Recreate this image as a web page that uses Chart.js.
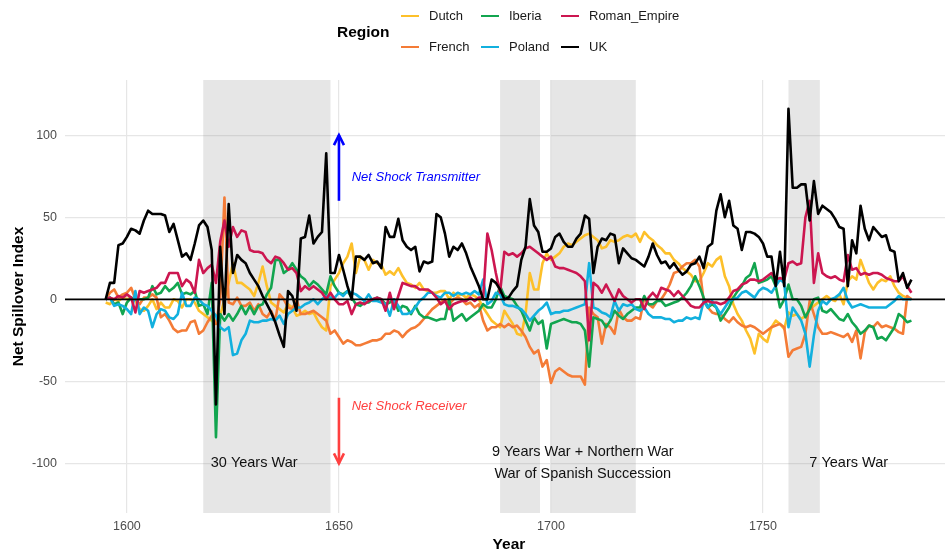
<!DOCTYPE html>
<html>
<head>
<meta charset="utf-8">
<script src="https://cdn.jsdelivr.net/npm/chart.js@4.4.1/dist/chart.umd.min.js"></script>
<style>
  html, body { margin: 0; padding: 0; background: #fff; width: 945px; height: 557px; overflow: hidden; }
  #wrap { position: relative; width: 945px; height: 557px; overflow: hidden; font-family: "Liberation Sans", Arial, sans-serif; }
  #chart { position: absolute; left: 0; top: 0; }
  .legtitle { position: absolute; left: 337px; top: 22px; font-weight: bold; font-size: 15.5px; line-height: 20px; color: #000; }
  .key { position: absolute; width: 18px; height: 2.6px; }
  .lab { position: absolute; font-size: 13px; line-height: 16px; color: #1a1a1a; white-space: nowrap; }
</style>
</head>
<body>
<div id="wrap">
  <canvas id="chart" width="953" height="557"></canvas>
  <div class="legtitle">Region</div>
  <div id="legend"></div>
</div>
<script>
// years 1595..1785, one value per year
const firstYear = 1595;
const lastYear = 1785;
const years = [];
for (let y = firstYear; y <= lastYear; y++) years.push(y);

const regions = ['Dutch', 'French', 'Iberia', 'Poland', 'Roman_Empire', 'UK'];
const regionColors = ['#FDC02A', '#F47B36', '#12A54F', '#12B0DE', '#CC1650', '#000000'];

const xTicks = [1600, 1650, 1700, 1750];
const yTicks = [-100, -50, 0, 50, 100];

const dutch = [
  -2, -3, 0, -1, 1, 0, 1, -1, -6, -7,
  -4, 0, -6, -2, -5, -5, 0, -1, -5, 0,
  0, -2, -7, -9, -11, -13, -15, -10, 0, 10,
  22, 10, 10, 8, 6, 2, 10, 20, 8, -2,
  -4, -6, -8, -3, -5, -10, -9, -7, -9, -8,
  -13, -17, -19, 8, 12, 16, 22, 26, 34, 16,
  26, 24, 18, 24, 22, 21, 15, 17, 15, 19,
  14, 10, 9, 7, 10, 6, 5, 4, 4, 5,
  5, 0, 4, 2, 3, 1, 3, 2, 0, -5,
  -9, -13, -15, -17, -7, -11, -15, -21, -22, -9,
  16, 6, 6, 22, 28, 24, 26, 28, 32, 34,
  33, 35, 37, 39, 40, 38, 36, 31, 32, 36,
  35, 36, 38, 39, 38, 40, 35, 41, 38, 36,
  33, 31, 28, 28, 24, 22, 19, 17, 15, 11,
  11, 16, 22, 20, 24, 26, 14, 8, -3, -9,
  -13, -19, -24, -33, -21, -24, -26, -17, -13, -15,
  -18, -8, -10, -9, -12, -10, -6, -4, -2, 0,
  2, 0, -1, 3, -3, 11, 14, 12, 24, 17,
  10, 6, 10, 12, 11, 14, 8, 4, 2, 1, 0
];

const french = [
  0, 4, 6, 1, 3, 4, 7, 0, -3, 1,
  1, 3, 1, -11, -9, -13, -18, -20, -19, -19,
  -14, -13, -21, -19, -14, -10, -15, 0, 62, -2,
  -3, 1, -4, -4, -2, -7, -3, -9, -11, -7,
  -13, 3, 0, -5, -6, 0, -9, -9, -8, -7,
  -9, -11, -13, -21, -19, -23, -27, -25, -26, -28,
  -28, -27, -26, -25, -25, -24, -21, -21, -19, -20,
  -23, -20, -18, -17, -15, -12, -9, -6, -4, -2,
  0, -3, 0, 1, 0, -3, -2, -5, -3, -13,
  -19, -17, -17, -15, -17, -15, -17, -16, -19, -23,
  -29, -33, -31, -41, -37, -51, -44, -42, -44, -46,
  -47, -47, -47, -52, -5, -9, -11, -27, -15, -17,
  -21, -6, -11, -13, -13, -11, -12, 1, -3, -5,
  -1, 0, 4, 9, 16, 17, 20, 22, 22, 24,
  20, -1, -5, -8, -9, -9, -12, -14, -11, -14,
  -16, -17, -16, -17, -19, -21, -19, -17, -16, -15,
  -17, -35, -31, -30, -29, -21, -1, -9, -17, -21,
  -21, -20, -21, -22, -23, -21, -26, -19, -36, -20,
  -16, -17, -14, -17, -16, -17, -18, -20, -21, 2, 0
];

const iberia = [
  0, 1, -3, -2, -9, -2, 1, 0, 0, 0,
  1, 8, 3, 4, 8, 5, 7, 10, 3, 4,
  3, 5, -4, -3, -9, 10, -84, -9, -13, -9,
  -13, -9, -4, -9, -4, -9, -4, -3, 3, 7,
  24, 24, 16, 18, 22, 18, 14, 12, 8, 11,
  9, 6, 3, 14, 8, 4, 3, 5, 1, -3,
  -4, -2, -2, 0, 1, 0, -3, -2, 0, -7,
  -4, -5, -9, -4, -9, -11, -11, -12, -13, -12,
  -12, 0, -13, -11, -9, -13, -11, -9, -7, -3,
  -5, -5, 0, 8, 2, 1, 0, -4, -7, -13,
  -19, -11, -15, -13, -30, -15, -14, -13, -12, -13,
  -14, -14, -15, -19, -41, -11, -12, -13, -17, -13,
  -7, -10, -12, -9, -7, -5, -5, 2, -3, -3,
  -1, -1, -4, -3, -2, -1, 1, 4, 8, 14,
  8, 1, -5, -3, -5, -13, -9, -5, 1, 5,
  8, 13, 15, 22, 10, 11, 12, 14, 8, -5,
  0, 9, 0, 0, -4, -11, -6, 0, 1, -7,
  -8, -6, -9, -12, -13, -9, -14, -17, -21, -19,
  -16, -17, -24, -23, -25, -21, -17, -9, -11, -14, -13
];

const poland = [
  0, 1, -4, -3, -4, -6, -9, 5, -9, -5,
  -7, -17, -9, -6, -7, -11, -12, -9, 4, -4,
  -4, 1, 0, -3, -4, -7, -10, -17, -19, -17,
  -34, -33, -25, -21, -13, -14, -14, -13, -13, -12,
  -13, -10, -15, -9, -7, -5, -5, -3, -2, 0,
  -3, 0, 2, 1, 1, 4, 2, 5, 4, 3,
  1, -1, 3, -1, -1, -2, -3, -10, 0, -4,
  -9, -9, -8, -5, -1, 1, 4, 4, 2, 1,
  4, 4, 2, 4, 3, 4, 3, 5, 3, 12,
  -3, -1, 4, 3, -3, -4, -4, -5, -6, -9,
  -13, -10, -7, -5, -2, -9, -8, -8, -7, -7,
  -6, -5, -4, -3, 22, -5, -6, -8, -9, -11,
  -1, -7, -3, -4, -3, -6, -7, -5, -9, -11,
  -11, -11, -12, -12, -14, -13, -13, -11, -12, -11,
  -12, -1, -5, -1, -5, -9, -5, -1, 0, 1,
  4, 5, 3, 1, 5, 7, 6, 4, 8, 12,
  10, -17, -5, -9, -13, -21, -41, -22, -7, -1,
  -3, 0, 1, 3, 7, -1, -5, -4, -3, -4,
  -5, -5, -5, -5, -5, -3, -1, 2, 0, 0, 0
];

const romanEmpire = [
  0, 1, 0, 2, 1, 3, 1, -8, 5, 4,
  5, 6, 7, 10, 10, 16, 16, 16, 8, 12,
  10, 4, 24, 16, 19, 21, 10, 35, 48, 32,
  44, 38, 42, 41, 30, 29, 29, 28, 24, 22,
  26, 25, 22, 18, 19, 16, 5, 8, 6, 8,
  6, 4, 0, 4, 0, -3, -3, -1, -9, -3,
  -2, -3, -1, 0, 1, 0, -7, 4, -6, 2,
  10, 9, 8, 8, 6, 6, 6, 4, 1, -3,
  -1, -6, -3, -2, -1, -1, 1, -1, 1, 1,
  40, 30, 16, 4, 29, 27, 28, 26, 28, 31,
  32, 30, 28, 26, 24, 26, 20, 19, 19, 18,
  17, 16, 14, 11, -25, 10, 8, 4, 9, 4,
  -1, 6, 2, 0, -2, 0, 0, -6, 1, 4,
  1, 7, 6, 5, 2, 5, 2, -1, -4, -5,
  -5, -2, -1, -2, -2, -3, -2, 1, 5, 6,
  9, 10, 12, 12, 11, 12, 14, 16, 12, 13,
  12, 22, 23, 21, 22, 50, 60, 10, 28, 16,
  14, 13, 14, 12, 11, 27, 18, 19, 15, 16,
  15, 16, 16, 15, 13, 12, 11, 11, 14, 8, 4
];

const uk = [
  0, 10, 10, 33, 34, 38, 43, 42, 40, 48,
  54, 52, 52, 52, 51, 41, 46, 36, 26, 28,
  24, 34, 45, 48, 44, 30, -64, 32, -9, 58,
  16, 27, 24, 22, 16, 12, 8, 2, -3, -8,
  -14, -22, -29, 5, 2, -7, 37, 38, 51, 34,
  38, 41, 89, 16, 16, 27, 18, 8, 0, 26,
  26, 24, 27, 22, 23, 19, 44, 38, 38, 49,
  36, 32, 30, 32, 17, 23, 22, 23, 52, 50,
  40, 26, 32, 30, 34, 28, 20, 14, 8, 0,
  0, 12, 10, 6, 0, 1, 5, 8, 24, 32,
  61, 45, 41, 29, 29, 31, 38, 40, 35, 32,
  32, 37, 40, 51, 49, 16, 32, 37, 36, 40,
  39, 22, 31, 28, 25, 24, 22, 20, 26, 34,
  27, 22, 23, 19, 22, 18, 15, 17, 21, 22,
  26, 19, 32, 34, 54, 64, 50, 60, 45, 43,
  30, 41, 41, 40, 38, 34, 26, 26, 8, 29,
  8, 116, 68, 68, 70, 70, 48, 72, 52, 57,
  55, 53, 49, 44, 43, 8, 36, 28, 57, 43,
  36, 44, 41, 38, 39, 30, 29, 11, 16, 7, 12
];

const seriesValues = [dutch, french, iberia, poland, romanEmpire, uk];

// war periods (shaded) and their labels
const wars = [[1618, 1648], [1688, 1697.4], [1700, 1720], [1756, 1763.4]];
const warLabels = [
  { text: '30 Years War', x: 1630, y: -99.7 },
  { text: '9 Years War + Northern War', x: 1707.5, y: -93 },
  { text: 'War of Spanish Succession', x: 1707.5, y: -106.4 },
  { text: '7 Years War', x: 1770.2, y: -99.7 }
];

const FONT = '"Liberation Sans", Arial, sans-serif';

// legend (two rows, three columns)
const legend = document.getElementById('legend');
const colX = [401, 481, 561];
const rowY = [16, 47];
regions.forEach((name, i) => {
  const col = Math.floor(i / 2), row = i % 2;
  const k = document.createElement('div');
  k.className = 'key';
  k.style.left = colX[col] + 'px';
  k.style.top = (rowY[row] - 1.3) + 'px';
  k.style.background = regionColors[i];
  legend.appendChild(k);
  const l = document.createElement('div');
  l.className = 'lab';
  l.textContent = name;
  l.style.left = (colX[col] + 28) + 'px';
  l.style.top = (rowY[row] - 8) + 'px';
  legend.appendChild(l);
});

const shading = {
  id: 'shading',
  beforeDatasetsDraw(chart) {
    const { ctx, chartArea, scales } = chart;
    ctx.save();
    ctx.fillStyle = 'rgba(128,128,128,0.2)';
    wars.forEach(([a, b]) => {
      const x1 = scales.x.getPixelForValue(a);
      const x2 = scales.x.getPixelForValue(b);
      ctx.fillRect(x1, chartArea.top, x2 - x1, chartArea.bottom - chartArea.top);
    });
    ctx.restore();
  }
};

function arrow(ctx, x, y1, y2, color) {
  const dir = y2 < y1 ? 1 : -1;
  ctx.strokeStyle = color;
  ctx.lineWidth = 2.6;
  ctx.lineCap = 'butt';
  ctx.beginPath();
  ctx.moveTo(x, y1);
  ctx.lineTo(x, y2);
  ctx.stroke();
  ctx.lineJoin = 'miter';
  ctx.beginPath();
  ctx.moveTo(x - 5, y2 + dir * 10);
  ctx.lineTo(x, y2);
  ctx.lineTo(x + 5, y2 + dir * 10);
  ctx.stroke();
}

const annotations = {
  id: 'annotations',
  afterDatasetsDraw(chart) {
    const { ctx, chartArea, scales } = chart;
    const xs = scales.x, ys = scales.y;
    ctx.save();
    // zero line
    ctx.strokeStyle = '#000';
    ctx.lineWidth = 1.7;
    ctx.beginPath();
    ctx.moveTo(chartArea.left, ys.getPixelForValue(0));
    ctx.lineTo(chartArea.right, ys.getPixelForValue(0));
    ctx.stroke();
    // arrows
    const ax = xs.getPixelForValue(1650);
    arrow(ctx, ax, ys.getPixelForValue(60), ys.getPixelForValue(100), '#0000FF');
    arrow(ctx, ax, ys.getPixelForValue(-60), ys.getPixelForValue(-100), '#FF4040');
    ctx.font = 'italic 13px ' + FONT;
    ctx.textBaseline = 'middle';
    ctx.textAlign = 'left';
    ctx.fillStyle = '#0000FF';
    ctx.fillText('Net Shock Transmitter', xs.getPixelForValue(1653), ys.getPixelForValue(74.5));
    ctx.fillStyle = '#FF4040';
    ctx.fillText('Net Shock Receiver', xs.getPixelForValue(1653), ys.getPixelForValue(-65));
    // war labels
    ctx.font = '14.5px ' + FONT;
    ctx.textAlign = 'center';
    ctx.fillStyle = '#111';
    warLabels.forEach(w => ctx.fillText(w.text, xs.getPixelForValue(w.x), ys.getPixelForValue(w.y)));
    ctx.restore();
  }
};

const datasets = regions.map((name, i) => ({
  label: name,
  data: years.map((yr, j) => ({ x: yr, y: seriesValues[i][j] })),
  borderColor: regionColors[i],
  backgroundColor: regionColors[i],
  borderWidth: 2.6,
  pointRadius: 0,
  tension: 0,
  borderJoinStyle: 'round',
  fill: false,
  order: regions.length - i
}));

new Chart(document.getElementById('chart'), {
  type: 'line',
  data: { datasets },
  plugins: [shading, annotations],
  options: {
    responsive: false,
    animation: false,
    layout: { padding: { top: 80, left: 0, right: 0, bottom: 0 } },
    plugins: { legend: { display: false }, tooltip: { enabled: false } },
    scales: {
      x: {
        type: 'linear',
        min: 1585.4,
        max: 1794.8,
        afterBuildTicks: s => { s.ticks = xTicks.map(v => ({ value: v })); },
        afterFit: s => { s.height = 44; },
        grid: { color: '#E6E6E6', lineWidth: 1.2, drawTicks: false },
        border: { display: false },
        ticks: { color: '#4D4D4D', font: { family: FONT, size: 12.5 }, padding: 6, maxRotation: 0, callback: v => String(v) },
        title: { display: true, text: 'Year', color: '#000', font: { family: FONT, size: 15.5, weight: 'bold' }, padding: { top: 0, bottom: 2.7 } }
      },
      y: {
        min: -130.2,
        max: 133.6,
        afterBuildTicks: s => { s.ticks = yTicks.map(v => ({ value: v })); },
        afterFit: s => { s.width = 65; },
        grid: { color: '#E6E6E6', lineWidth: 1.2, drawTicks: false },
        border: { display: false },
        ticks: { color: '#4D4D4D', font: { family: FONT, size: 12.5 }, padding: 8, callback: v => String(v) },
        title: { display: true, text: 'Net Spillover Index', color: '#000', font: { family: FONT, size: 15.5, weight: 'bold' }, padding: { top: 9.7, bottom: 0 } }
      }
    }
  }
});
</script>
</body>
</html>
